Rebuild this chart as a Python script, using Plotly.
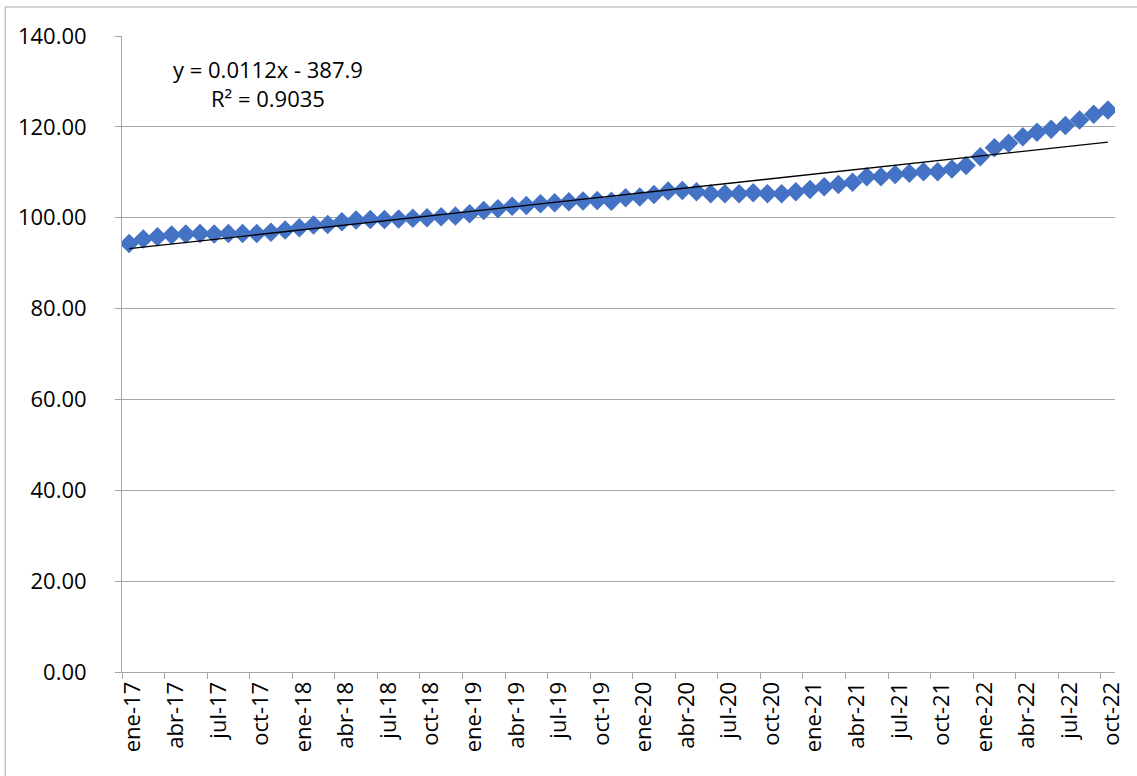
import numpy as np
import plotly.graph_objects as go

# meses ene-17 .. oct-22 (70 puntos mensuales)
meses = ['ene', 'feb', 'mar', 'abr', 'may', 'jun', 'jul', 'ago', 'sep', 'oct', 'nov', 'dic']
anios = ['17', '18', '19', '20', '21', '22']
etiquetas = [f'{m}-{a}' for a in anios for m in meses][:70]

valores_2017_2018 = [94.3, 95.3, 95.8, 96.2, 96.4, 96.5, 96.4, 96.5, 96.5, 96.5, 96.8, 97.3,
                     97.8, 98.4, 98.5, 99.1, 99.5, 99.6, 99.6, 99.7, 99.9, 100.0, 100.2, 100.4]
valores_2019_2020 = [100.9, 101.6, 102.0, 102.5, 102.7, 103.1, 103.3, 103.5, 103.7, 103.8, 103.6, 104.4,
                     104.55, 105.1, 105.9, 106.0, 105.7, 105.3, 105.3, 105.3, 105.5, 105.3, 105.3, 105.7]
valores_2021_2022 = [106.2, 106.8, 107.3, 107.8, 109.0, 109.0, 109.5, 109.8, 110.1, 110.1, 110.7, 111.5,
                     113.4, 115.4, 116.4, 117.8, 118.8, 119.5, 120.3, 121.5, 122.8, 123.7]
valores = valores_2017_2018 + valores_2019_2020 + valores_2021_2022

ecuacion = 'y = 0.0112x - 387.9<br>R² = 0.9035'

x = np.arange(len(valores))
pend, inter = np.polyfit(x, valores, 1)
tendencia = pend * x + inter

fuente = dict(family='Open Sans', size=22, color='black')
gris = '#a6a6a6'

fig = go.Figure()
fig.add_trace(go.Scatter(
    x=x, y=valores, mode='markers',
    marker=dict(symbol='diamond', size=15, color='#4472C4'),
    showlegend=False,
))
fig.add_trace(go.Scatter(
    x=[x[0], x[-1]], y=[tendencia[0], tendencia[-1]], mode='lines',
    line=dict(color='black', width=1.3), showlegend=False,
))

pos_ticks = list(range(0, len(valores), 3))
fig.update_xaxes(
    range=[-0.5, len(valores) - 0.5],
    tickmode='array', tickvals=[i + 0.3 for i in pos_ticks], ticktext=[etiquetas[i] for i in pos_ticks],
    tickangle=-90, ticks='', showgrid=False,
    showline=True, linecolor=gris, linewidth=1,
    minor=dict(tickmode='array', tickvals=[i - 0.5 for i in pos_ticks],
               ticks='outside', ticklen=6, tickcolor=gris, showgrid=False),
    tickfont=fuente, zeroline=False,
)
fig.update_yaxes(
    range=[0, 140], dtick=20, tickformat='.2f',
    showgrid=True, gridcolor=gris, gridwidth=1,
    showline=True, linecolor=gris, linewidth=1,
    ticks='outside', ticklen=6, tickcolor=gris,
    ticklabelstandoff=24,
    tickfont=fuente, zeroline=False,
)

fig.add_annotation(
    text=ecuacion, xref='paper', yref='paper', x=0.147, y=0.925,
    xanchor='center', yanchor='middle',
    showarrow=False, align='center', font=fuente,
)

# borde del área del gráfico
fig.add_shape(type='line', xref='paper', yref='paper', x0=-0.1176, x1=1.03, y0=1.0456, y1=1.0456,
              line=dict(color=gris, width=1))
fig.add_shape(type='line', xref='paper', yref='paper', x0=-0.1176, x1=-0.1176, y0=-0.2, y1=1.0456,
              line=dict(color=gris, width=1))

fig.update_layout(
    width=1137, height=776, autosize=False,
    margin=dict(l=122, r=20, t=36, b=104),
    plot_bgcolor='white', paper_bgcolor='white',
    font=fuente,
)

fig.write_html('out.html', config={'displayModeBar': False},
               post_script="document.body.style.margin='0';")
